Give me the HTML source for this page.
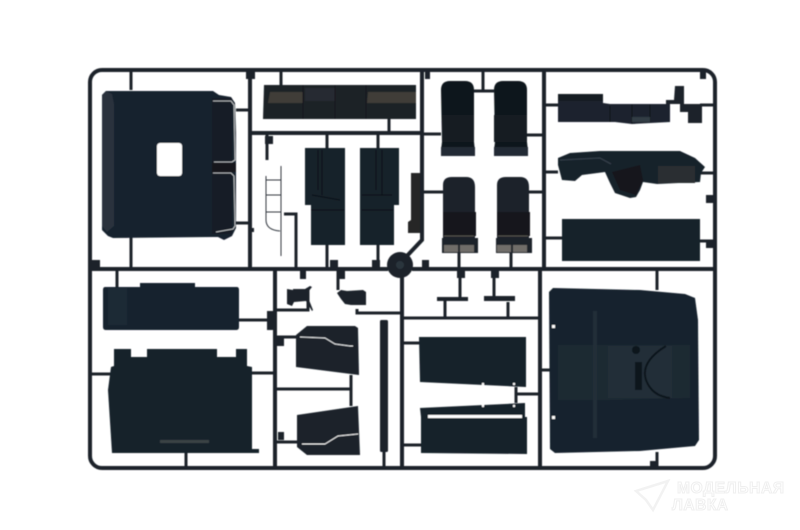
<!DOCTYPE html>
<html><head><meta charset="utf-8"><style>
html,body{margin:0;padding:0;background:#fff;width:800px;height:530px;overflow:hidden}
svg{display:block}
</style></head><body>
<svg width="800" height="530" viewBox="0 0 800 530" xmlns="http://www.w3.org/2000/svg">
<defs><filter id="b" x="-2%" y="-2%" width="104%" height="104%"><feGaussianBlur stdDeviation="0.5"/></filter></defs>
<rect width="800" height="530" fill="#fff"/>
<g filter="url(#b)">
<!-- runners -->
<g fill="none" stroke="#1d2329" stroke-width="4">
<rect x="90" y="70" width="625" height="398" rx="12"/>
<path d="M90 269H388M412 269H715"/>
<path d="M250 70V269M422 70V240L405 258M544 70V269M540 269V468M275 269V468M402 275V468"/>
<path d="M250 133H422"/>
</g>
<g fill="none" stroke="#1d2329" stroke-width="3">
<path d="M402 318H540M357 309V313H400M275 389H351M351 375V406"/>
<path d="M131 70V90M131 236V268M236 110H250M236 223H250"/>
<path d="M281 70V85M389 119V133M267 133V160M284 214H296V268"/>
<path d="M327 133V148M327 245V268M378 133V148M378 245V268"/>
<path d="M483 70V91M474 91H494M527 135H544M422 134H441M422 192H443M529 192H544M459 253V268M511 253V268"/>
<path d="M544 105H558M700 105H715M544 172H558M700 173H715M544 238H562M700 241H715"/>
<path d="M117 270V287M239 320H275M90 374H111M252 373H275M186 453V468"/>
<path d="M275 337H296M275 442H297M308 288V310H275M338 270V290"/>
<path d="M460 270V297M445 300V318M494 270V297M508 302V318"/>
<path d="M402 343H420M402 445H421M516 387V403M516 394H540"/>
<path d="M657 269V290M657 452V468M540 370H550M384 452V468"/>
</g>
<!-- tabs -->
<g fill="#1d2329">
<rect x="246" y="71" width="9" height="8"/><rect x="265" y="136" width="8" height="8"/>
<rect x="425" y="71" width="5" height="8"/><rect x="700" y="71" width="6" height="8"/>
<rect x="422" y="260" width="7" height="8"/><rect x="92" y="260" width="8" height="8"/>
<rect x="330" y="260" width="8" height="8"/>
<rect x="372" y="260" width="8" height="8"/><rect x="706" y="195" width="7" height="8"/>
<rect x="706" y="240" width="7" height="8"/><rect x="267" y="311" width="10" height="19"/>
<rect x="277" y="338" width="7" height="8"/><rect x="278" y="432" width="6" height="8"/>
<rect x="300" y="271" width="6" height="8"/><rect x="338" y="271" width="7" height="8"/>
<rect x="250" y="228" width="4" height="4"/><rect x="457" y="271" width="8" height="7"/>
<rect x="491" y="271" width="8" height="7"/><rect x="650" y="461" width="7" height="7"/>
<circle cx="400" cy="265" r="13"/>
<rect x="437" y="297" width="31" height="4"/><rect x="484" y="296" width="31" height="5"/>
<path d="M287 289l6 1 0-1 12 0 5-3 2 1-4 5 1 8 4 10-1 1-6-10-12 1-2 4-5-2z"/>
<path d="M337 293l4-3 6 1 16-1 3 2v13l-15 0-6-1-4-5z"/>
<rect x="380" y="320" width="8" height="132" rx="1.5"/>
</g>
<circle cx="400" cy="265" r="4" fill="#2c363e"/>
<!-- cab back panel -->
<path d="M102 95l4-4 107 0 6 4 12 2 4 6 1 30 0 95-4 8-8 4-6-3-5 0-100 1-5-2-6-6z" fill="#18232d"/>
<path d="M102 95l4-4 6 3 2 10 0 122-7 6-5-6z" fill="#29323c"/>
<rect x="212" y="98" width="20" height="136" fill="#151d25"/>
<rect x="157" y="143" width="25" height="33" rx="3" fill="#fff"/>
<path d="M213 101h18l3 4 1 55-3 2h-18M213 173h18l3 3 1 50-2 3-17 3" fill="none" stroke="#d5d8da" stroke-width="0.8"/>
<rect x="212" y="163" width="24" height="9" fill="#12181e"/>
<!-- visor -->
<path d="M264 85H416V119H263z" fill="#1f2428"/>
<path d="M270 92H303V103H268zM368 92H416V103H367z" fill="#413c37"/>
<path d="M305 88H335V101H305z" fill="#282c30"/>
<path d="M303 85V119M335 85V119M366 85V119" stroke="#14181c" stroke-width="1"/>
<!-- ladder -->
<path d="M266 176V220Q266 230 280 231M281 166V256M266 180H281M266 195H281M266 212H281" fill="none" stroke="#33393f" stroke-width="1"/>
<!-- panels -->
<path d="M305 148H345V245H311V205H305z" fill="#18232b"/>
<path d="M360 148H399V205H394V245H360z" fill="#18232b"/>
<path d="M318 150V190M322 150V195M312 195L340 200M311 210H344M376 150V190M382 150V195M362 195H392M362 210H393" stroke="#10161c" stroke-width="1.6" fill="none"/>
<path d="M411 173H420V233H408V222L411 220z" fill="#282725"/>
<!-- seats -->
<path d="M441 90Q441 81 450 81H465Q474 81 474 90V142L475 151V156H441V150L442 142z" fill="#0f151b"/>
<path d="M494 90Q494 81 503 81H518Q527 81 527 90V142L528 151V156H494V150L495 142z" fill="#0f151b"/>
<path d="M442 115H474V142H442zM494 115H527V142H494z" fill="#181e24"/>
<path d="M441 147H475V156H441zM494 147H528V156H494z" fill="#222c36"/>
<path d="M443 185Q443 177 452 177H466Q475 177 475 187V238H478V253H442V238H443z" fill="#1a232c"/>
<path d="M497 185Q497 177 506 177H520Q529 177 529 187V238H532V253H496V238H497z" fill="#1a232c"/>
<path d="M443 212H476V236H443zM497 212H530V236H497z" fill="#12181e"/>
<path d="M444 245H458V252H444zM460 245H474V252H460zM497 245H511V252H497zM513 245H527V252H513z" fill="#6f6d69"/>
<path d="M444 236H474M498 236H528" stroke="#55534d" stroke-width="1"/>
<!-- dash top -->
<path d="M558 94H603V103L610 104H670V122L632 124L615 122H558z" fill="#1b242e"/>
<path d="M558 94H603V101H558z" fill="#161b21"/>
<path d="M610 106V122M632 105V123M650 105V122" stroke="#0e1318" stroke-width="1"/>
<path d="M632 117H650V122H632z" fill="#333c44"/>
<path d="M666 100H674L675 86H684V104H702V112H702V123H688V112H680V104H666z" fill="#1d2329"/>
<!-- dash lower -->
<path d="M558 158L570 153L600 151H680L695 158L705 167L701 173L700 182L657 184L643 182L640 190L636 197L630 198L615 193L610 183L605 172L582 175L575 181L562 180L558 165z" fill="#19222b"/>
<path d="M658 166H695V183H658z" fill="#2a2d30"/>
<path d="M612 172L640 165L643 180L636 195L620 190z" fill="#12181e"/>
<path d="M560 160L600 158L611 164" stroke="#38434d" fill="none"/>
<rect x="562" y="219" width="138" height="42" fill="#18232c"/>
<!-- lower left -->
<path d="M105 287H140V283H195V287H237Q239 287 239 290V327Q239 330 236 330H106Q103 330 103 327V290Q103 287 105 287z" fill="#18232d"/>
<path d="M108 288H127V325H108z" fill="#1f2a34"/>
<path d="M114 349H131V357H147V349H217V357H236V349H247V366L252 367V449H259V453H112L108 390L111 367L114 366z" fill="#16212b"/>
<path d="M160 440H209V443H160z" fill="#3b4245"/>
<path d="M296 335L307 326H355L358 328L359 375L296 367z" fill="#1a232b"/>
<path d="M300 337L325 338L335 344L350 346H353" stroke="#e4e6e7" stroke-width="1" fill="none"/>
<path d="M297 415L358 406L360 455H307L297 447z" fill="#1a232b"/>
<path d="M302 444H325L338 436L358 434" stroke="#f0f0f0" stroke-width="1" fill="none"/>
<!-- lower middle -->
<path d="M419 337H526V387L420 382z" fill="#18222b"/>
<circle cx="483" cy="384" r="1.2" fill="#fff"/><circle cx="514" cy="384" r="1.2" fill="#fff"/>
<path d="M420 408L525 403V417H527V454L421 453V417z" fill="#18222b"/>
<rect x="428" y="415" width="94" height="3" fill="#fff"/>
<circle cx="483" cy="406" r="1.2" fill="#fff"/><circle cx="514" cy="406" r="1.2" fill="#fff"/>
<!-- cab floor -->
<path d="M553 288L640 290L685 294L695 298L698 320L699 440L695 446L640 451L555 453L550 449L549 292z" fill="#18232d"/>
<path d="M558 345H610L690 345V398L610 400H558z" fill="#1e2933"/>
<path d="M595 311V438" stroke="#232e39" stroke-width="4"/>
<path d="M608 346H672V398H608z" fill="#232e39"/>
<path d="M666 346Q640 362 646 380Q652 396 670 398" fill="none" stroke="#10151a" stroke-width="2"/>
<path d="M635 362H642V390H635z" fill="#10151a"/>
<circle cx="636" cy="350" r="4" fill="#10151a"/>
<rect x="552" y="325" width="3" height="3" fill="#fff"/><rect x="552" y="416" width="3" height="3" fill="#fff"/>
</g>
<!-- watermark -->
<path d="M668 481L636 491L646 500L653 510L668 481z" fill="none" stroke="#f2f2f2" stroke-width="2.5"/>
<text x="677" y="493" font-family="'Liberation Sans',sans-serif" font-weight="700" font-size="15.5" fill="#fff" stroke="#efefef" stroke-width="1" textLength="107">МОДЕЛЬНАЯ</text>
<text x="672" y="510" font-family="'Liberation Sans',sans-serif" font-weight="700" font-size="15.5" fill="#fff" stroke="#efefef" stroke-width="1" textLength="56">ЛАВКА</text>
</svg>
</body></html>
